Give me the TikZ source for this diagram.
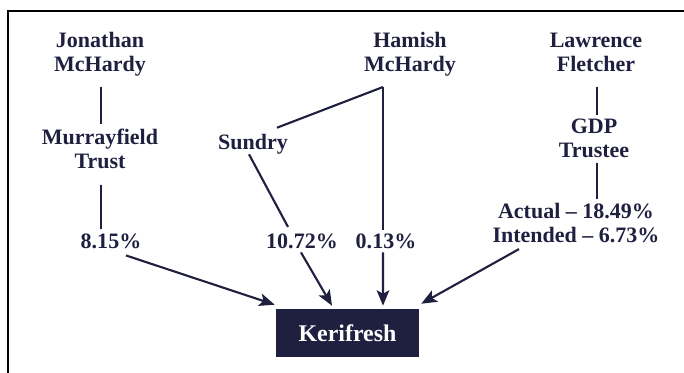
\documentclass[tikz,border=0pt]{standalone}
\usepackage{fontspec}
\setmainfont{LiberationSerif}[Extension=.ttf, UprightFont=*-Regular, BoldFont=*-Bold, ItalicFont=*-Italic, BoldItalicFont=*-BoldItalic]
\usetikzlibrary{arrows.meta}
\definecolor{holdnavy}{RGB}{31,31,63}

\begin{document}
\begin{tikzpicture}[x=0.025cm, y=-0.025cm,
    person/.style={font=\bfseries\fontsize{15.65pt}{17.07pt}\selectfont, text=holdnavy, align=center, inner sep=0pt},
    link/.style={draw=holdnavy, line width=1.5pt},
    share/.style={link, -{Stealth[length=11pt, width=9pt, inset=2.5pt]}},
    company/.style={rectangle, fill=holdnavy, text=white, font=\bfseries\fontsize{17pt}{19pt}\selectfont, minimum width=3.575cm, minimum height=1.2cm, inner sep=0pt}
]
\useasboundingbox (0,0) rectangle (684,373);

% Frame
\draw[line width=1.8pt] (684,11) -- (8,11) -- (8,373);

% Owners at top
\node[person] (jon) at (100,54.6) {Jonathan\\McHardy};
\node[person] (ham) at (410,54.6) {Hamish\\McHardy};
\node[person] (law) at (596,52.4) {Lawrence\\Fletcher};
\coordinate (split) at (383,87);

% Holding vehicles
\node[person] (mur) at (100,148.4) {Murrayfield\\Trust};
\node[person] (sun) at (253,144) {Sundry};
\node[person] (gdp) at (594,138) {GDP\\Trustee};

% Shareholdings
\node[person] (pjon) at (111,241.7) {8.15\%};
\node[person] (psun) at (302,241.7) {10.72\%};
\node[person] (pham) at (386,241.7) {0.13\%};
\node[person] (pgdp) at (576,223) {Actual -- 18.49\%\\Intended -- 6.73\%};

% Company
\node[company] (keri) at (347.5,333) {Kerifresh};

% Lines down to the holdings
\draw[link] ([shift={(1,10.5)}]jon.south) -- ([shift={(1,-4)}]mur.north);
\draw[link] ([shift={(1,16)}]mur.south) -- ([shift={(-10,-5)}]pjon.north);
\draw[link] (split) -- ([shift={(24,-6)}]sun.north);
\draw[link] (split) -- ([shift={(-3,-4)}]pham.north);
\draw[link] ([shift={(-4,0)}]sun.south) -- ([shift={(-14,-7)}]psun.north);
\draw[link] ([shift={(1,15)}]law.south) -- ([shift={(3,-3.5)}]gdp.north);
\draw[link] ([shift={(3,5)}]gdp.south) -- ([shift={(21,-3.5)}]pgdp.north);

% Arrows into Kerifresh
\draw[share] ([shift={(15,6)}]pjon.south) -- ([shift={(-1,-4)}]keri.north west);
\draw[share] ([shift={(-1,3)}]psun.south) -- ([shift={(-15.5,-3)}]keri.north);
\draw[share] ([shift={(-3,3)}]pham.south) -- ([shift={(35.5,-3)}]keri.north);
\draw[share] ([shift={(-57,6)}]pgdp.south) -- ([shift={(2,-5)}]keri.north east);
\end{tikzpicture}
\end{document}
